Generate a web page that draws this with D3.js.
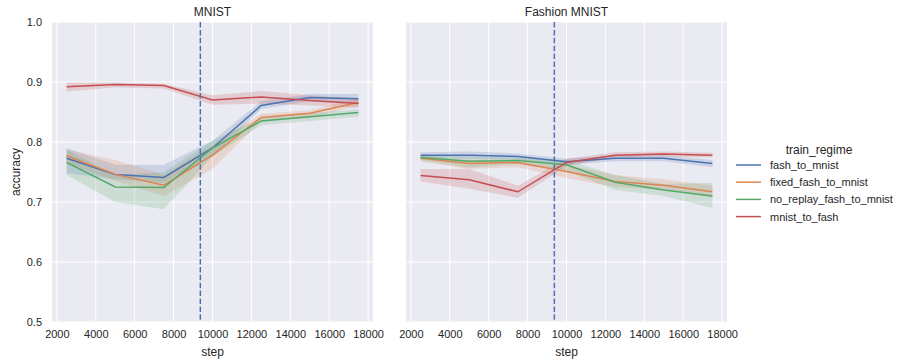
<!DOCTYPE html>
<html>
<head>
<meta charset="utf-8">
<script src="https://cdn.jsdelivr.net/npm/d3@7"></script>
<style>
    body { margin: 0; background: #fff; }
    svg text { font-family: "Liberation Sans", Arial, sans-serif; fill: #262626; }
</style>
</head>
<body>
<div id="chart"></div>
<script>

//--- Daten ------------------------------------------------------------------------------------------------ //

var steps = [2500, 5000, 7500, 10000, 12500, 15000, 17500];
var regimes = ['fash_to_mnist', 'fixed_fash_to_mnist', 'no_replay_fash_to_mnist', 'mnist_to_fash'];
var panelTitles = ['MNIST', 'Fashion MNIST'];
var switchStep = 9375;

var xTicks = [2000, 4000, 6000, 8000, 10000, 12000, 14000, 16000, 18000];
var yTicks = [0.5, 0.6, 0.7, 0.8, 0.9, 1.0];

// MNIST panel: mean, lower, upper
var mnistMean = [
    [0.773, 0.746, 0.741, 0.790, 0.861, 0.874, 0.872],
    [0.777, 0.746, 0.728, 0.778, 0.841, 0.848, 0.866],
    [0.766, 0.725, 0.724, 0.790, 0.835, 0.842, 0.849],
    [0.892, 0.896, 0.894, 0.870, 0.875, 0.869, 0.864]
];
var mnistLow = [
    [0.748, 0.738, 0.732, 0.776, 0.855, 0.868, 0.865],
    [0.765, 0.735, 0.710, 0.755, 0.835, 0.841, 0.860],
    [0.745, 0.700, 0.688, 0.776, 0.828, 0.835, 0.842],
    [0.884, 0.891, 0.889, 0.862, 0.864, 0.861, 0.857]
];
var mnistHigh = [
    [0.790, 0.762, 0.762, 0.802, 0.868, 0.880, 0.880],
    [0.787, 0.770, 0.745, 0.795, 0.847, 0.853, 0.873],
    [0.787, 0.745, 0.750, 0.802, 0.840, 0.848, 0.855],
    [0.899, 0.899, 0.897, 0.878, 0.885, 0.878, 0.872]
];

// Fashion MNIST panel: mean, lower, upper
var fashionMean = [
    [0.778, 0.778, 0.776, 0.767, 0.773, 0.773, 0.764],
    [0.773, 0.764, 0.766, 0.751, 0.734, 0.728, 0.717],
    [0.774, 0.768, 0.769, 0.762, 0.733, 0.720, 0.710],
    [0.744, 0.737, 0.717, 0.766, 0.778, 0.780, 0.778]
];
var fashionLow = [
    [0.773, 0.772, 0.771, 0.762, 0.768, 0.768, 0.758],
    [0.767, 0.755, 0.758, 0.740, 0.725, 0.720, 0.707],
    [0.770, 0.757, 0.763, 0.752, 0.720, 0.710, 0.690],
    [0.734, 0.722, 0.707, 0.760, 0.774, 0.776, 0.774]
];
var fashionHigh = [
    [0.783, 0.784, 0.781, 0.772, 0.778, 0.778, 0.770],
    [0.778, 0.770, 0.772, 0.762, 0.745, 0.738, 0.727],
    [0.778, 0.775, 0.774, 0.770, 0.745, 0.730, 0.732],
    [0.755, 0.755, 0.727, 0.772, 0.783, 0.784, 0.782]
];

var colors = ['#4c72b0', '#dd8452', '#55a868', '#c44e52'];


//--- SVG aufbauen ----------------------------------------------------------------------------------------- //

var width = 903, height = 360;
var plotTop = 22, plotBottom = 322;
var panelLeft = [52, 406];
var panelWidth = 321;

var svg = d3.select('#chart').append('svg')
    .attr('width', width)
    .attr('height', height);

var y = d3.scaleLinear().domain([0.5, 1.0]).range([plotBottom, plotTop]);

function drawPanel(_idx, _mean, _low, _high) {

    var x0 = panelLeft[_idx];
    var x = d3.scaleLinear().domain([1750, 18250]).range([x0, x0 + panelWidth]);

    var g = svg.append('g').attr('class', 'panel');

    g.append('rect')
        .attr('x', x0).attr('y', plotTop)
        .attr('width', panelWidth).attr('height', plotBottom - plotTop)
        .attr('fill', '#eaeaf2');

    // grid
    g.selectAll('.vgrid').data(xTicks).enter().append('line')
        .attr('x1', function(d) { return x(d); })
        .attr('x2', function(d) { return x(d); })
        .attr('y1', plotTop).attr('y2', plotBottom)
        .attr('stroke', '#fff').attr('stroke-width', 1);

    g.selectAll('.hgrid').data(yTicks).enter().append('line')
        .attr('x1', x0).attr('x2', x0 + panelWidth)
        .attr('y1', function(d) { return y(d); })
        .attr('y2', function(d) { return y(d); })
        .attr('stroke', '#fff').attr('stroke-width', 1);

    // Baender
    for (var s = 0; s < regimes.length; s++) {
        var pts = steps.map(function(st, i) { return {x: st, lo: _low[s][i], hi: _high[s][i]}; });
        var area = d3.area()
            .x(function(d) { return x(d.x); })
            .y0(function(d) { return y(d.lo); })
            .y1(function(d) { return y(d.hi); });
        g.append('path')
            .attr('d', area(pts))
            .attr('fill', colors[s])
            .attr('fill-opacity', 0.2);
    }

    // Linien
    for (var s = 0; s < regimes.length; s++) {
        var pts = steps.map(function(st, i) { return {x: st, v: _mean[s][i]}; });
        var line = d3.line()
            .x(function(d) { return x(d.x); })
            .y(function(d) { return y(d.v); });
        g.append('path')
            .attr('d', line(pts))
            .attr('fill', 'none')
            .attr('stroke', colors[s])
            .attr('stroke-width', 1.5);
    }

    // Wechsel-Linie
    g.append('line')
        .attr('x1', x(switchStep)).attr('x2', x(switchStep))
        .attr('y1', plotTop).attr('y2', plotBottom)
        .attr('stroke', '#4c72b0')
        .attr('stroke-width', 1.5)
        .attr('stroke-dasharray', '5.5,2.4');

    // x Achse
    var xAxis = d3.axisBottom(x).tickValues(xTicks).tickSize(0).tickPadding(8).tickFormat(d3.format('d'));
    var ax = g.append('g')
        .attr('transform', 'translate(0,' + plotBottom + ')')
        .call(xAxis);
    ax.select('.domain').remove();
    ax.selectAll('text').attr('font-size', 11).attr('fill', '#262626').attr('font-family', null);

    g.append('text')
        .attr('x', x0 + panelWidth / 2)
        .attr('y', 356)
        .attr('text-anchor', 'middle')
        .attr('font-size', 12)
        .text('step');

    g.append('text')
        .attr('x', x0 + panelWidth / 2)
        .attr('y', 16)
        .attr('text-anchor', 'middle')
        .attr('font-size', 12)
        .text(panelTitles[_idx]);

    if (_idx == 0) {
        var yAxis = d3.axisLeft(y).tickValues(yTicks).tickSize(0).tickPadding(10).tickFormat(d3.format('.1f'));
        var ay = g.append('g')
            .attr('transform', 'translate(' + x0 + ',0)')
            .call(yAxis);
        ay.select('.domain').remove();
        ay.selectAll('text').attr('font-size', 11).attr('fill', '#262626').attr('font-family', null);

        g.append('text')
            .attr('transform', 'translate(20,' + ((plotTop + plotBottom) / 2) + ') rotate(-90)')
            .attr('text-anchor', 'middle')
            .attr('font-size', 12)
            .text('accuracy');
    }
}

drawPanel(0, mnistMean, mnistLow, mnistHigh);
drawPanel(1, fashionMean, fashionLow, fashionHigh);


//--- Legende ---------------------------------------------------------------------------------------------- //

var legend = svg.append('g').attr('class', 'legend');

legend.append('text')
    .attr('x', 819).attr('y', 154)
    .attr('text-anchor', 'middle')
    .attr('font-size', 12)
    .text('train_regime');

var rows = legend.selectAll('.row').data(regimes).enter().append('g')
    .attr('transform', function(d, i) { return 'translate(736,' + (165 + i * 17.2) + ')'; });

rows.append('line')
    .attr('x1', 0).attr('x2', 25)
    .attr('y1', 0).attr('y2', 0)
    .attr('stroke', function(d, i) { return colors[i]; })
    .attr('stroke-width', 1.5);

rows.append('text')
    .attr('x', 34).attr('y', 4)
    .attr('font-size', 11)
    .text(function(d) { return d; });

</script>
</body>
</html>
